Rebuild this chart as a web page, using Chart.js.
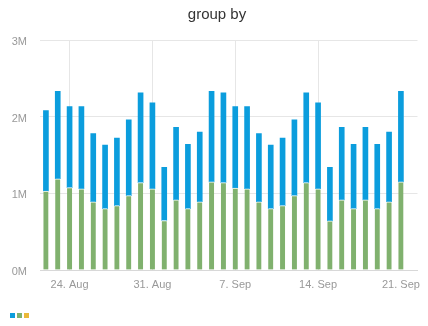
<!DOCTYPE html>
<html>
<head>
<meta charset="utf-8">
<title>group by</title>
<script src="https://cdn.jsdelivr.net/npm/chart.js@4.4.0/dist/chart.umd.min.js"></script>
<style>
    html, body { margin: 0; padding: 0; background: #fff; }
    #wrap { width: 428px; height: 326px; position: relative; }
</style>
</head>
<body>
<div id="wrap"><canvas id="groupChart"></canvas></div>
<script>
// Daily values, 22 Aug - 21 Sep
const dates = [
    '22 Aug', '23 Aug', '24 Aug', '25 Aug', '26 Aug', '27 Aug', '28 Aug', '29 Aug', '30 Aug', '31 Aug',
    '1 Sep', '2 Sep', '3 Sep', '4 Sep', '5 Sep', '6 Sep', '7 Sep', '8 Sep', '9 Sep', '10 Sep',
    '11 Sep', '12 Sep', '13 Sep', '14 Sep', '15 Sep', '16 Sep', '17 Sep', '18 Sep', '19 Sep', '20 Sep', '21 Sep'
];
const blueValues = [
    1050000, 1140000, 1055000, 1070000, 890000, 830000, 880000, 990000, 1170000, 1120000,
    694000, 945000, 840000, 910000, 1180000, 1170000, 1060000, 1070000, 890000, 830000,
    880000, 990000, 1170000, 1120000, 700000, 945000, 840000, 945000, 840000, 910000, 1180000
];
const greenValues = [
    1030000, 1190000, 1075000, 1060000, 890000, 800000, 840000, 970000, 1140000, 1060000,
    646000, 915000, 800000, 890000, 1150000, 1140000, 1070000, 1060000, 890000, 800000,
    840000, 970000, 1140000, 1060000, 640000, 915000, 800000, 915000, 800000, 890000, 1150000
];
const yellowValues = [];

// Weekly date ticks (index into dates)
const tickIndexes = [2, 9, 16, 23, 30];
const tickLabels = ['24. Aug', '31. Aug', '7. Sep', '14. Sep', '21. Sep'];
const yTicks = [0, 1000000, 2000000, 3000000];

const BLUE = '#0b9ddd';
const GREEN = '#80b16e';
const YELLOW = '#eab839';
const GRID = '#e6e6e6';
const LABEL = '#999999';
const FONT = "'Liberation Sans', Arial, sans-serif";

function toPoints(values) {
    return values.map((v, i) => ({ x: i, y: v }));
}

// Green sits at the bottom of each stack, blue on top; legend lists blue first
const datasets = [
    {
        label: 'green',
        data: toPoints(greenValues),
        backgroundColor: GREEN,
        borderColor: '#ffffff',
        borderWidth: { top: 1, left: 0, right: 0, bottom: 0 },
        borderSkipped: false,
        barThickness: 5
    },
    {
        label: 'blue',
        data: toPoints(blueValues),
        backgroundColor: BLUE,
        borderWidth: 0,
        barThickness: 5
    },
    {
        label: 'yellow',
        data: toPoints(yellowValues),
        backgroundColor: YELLOW,
        borderWidth: 0,
        barThickness: 5
    }
];
const legendOrder = [1, 0, 2];

new Chart(document.getElementById('groupChart'), {
    type: 'bar',
    data: { datasets: datasets },
    options: {
        responsive: true,
        maintainAspectRatio: false,
        animation: false,
        layout: {
            padding: { left: 9, right: 3, top: 0, bottom: -2 }
        },
        plugins: {
            title: {
                display: true,
                text: 'group by',
                color: '#333333',
                font: { family: FONT, size: 15, weight: 'normal' },
                padding: { top: 6, bottom: 16 }
            },
            legend: {
                display: true,
                position: 'bottom',
                align: 'start',
                labels: {
                    boxWidth: 5,
                    boxHeight: 5,
                    padding: 1,
                    font: { size: 2 },
                    generateLabels: (chart) => legendOrder.map(i => ({
                        text: '',
                        fillStyle: chart.data.datasets[i].backgroundColor,
                        strokeStyle: chart.data.datasets[i].backgroundColor,
                        lineWidth: 0,
                        hidden: false,
                        datasetIndex: i
                    }))
                }
            },
            tooltip: { enabled: false }
        },
        scales: {
            x: {
                type: 'linear',
                stacked: true,
                offset: false,
                min: -0.5,
                max: 31.4,
                afterBuildTicks: (scale) => {
                    scale.ticks = tickIndexes.map(v => ({ value: v }));
                },
                afterFit: (scale) => {
                    scale.height = 42;
                },
                grid: {
                    // no grid line under the last date label
                    color: (ctx) => (ctx.tick && ctx.tick.value === 30) ? 'rgba(0,0,0,0)' : GRID,
                    offset: false,
                    drawTicks: false
                },
                border: { display: true, color: '#d8d8d8' },
                ticks: {
                    padding: 8,
                    color: LABEL,
                    font: { family: FONT, size: 11 },
                    maxRotation: 0,
                    autoSkip: false,
                    callback: (value) => tickLabels[tickIndexes.indexOf(value)]
                }
            },
            y: {
                stacked: true,
                min: 0,
                max: 3000000,
                afterBuildTicks: (scale) => {
                    scale.ticks = yTicks.map(v => ({ value: v }));
                },
                afterFit: (scale) => {
                    scale.width = 31;
                },
                grid: {
                    color: GRID,
                    drawTicks: false
                },
                border: { display: false },
                ticks: {
                    padding: 13,
                    labelOffset: 2,
                    color: LABEL,
                    font: { family: FONT, size: 11 },
                    callback: (value) => (value / 1000000) + 'M'
                }
            }
        }
    }
});
</script>
</body>
</html>
